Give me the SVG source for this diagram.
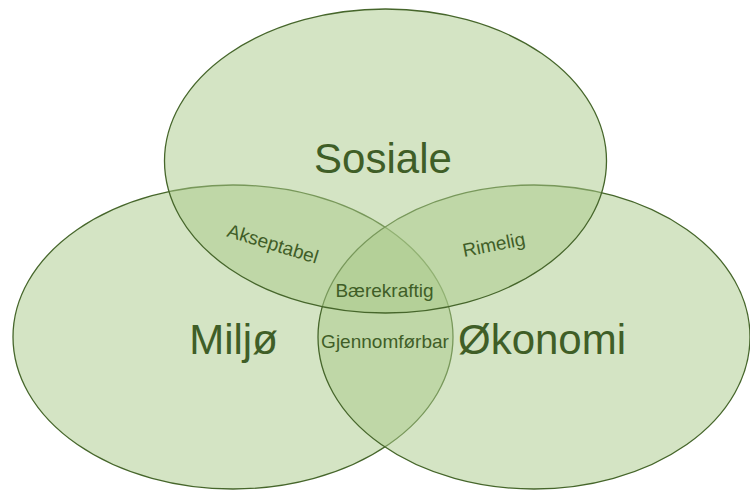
<svg xmlns="http://www.w3.org/2000/svg" width="750" height="491" viewBox="0 0 750 491">
<style>
.set{fill:rgba(169,201,137,0.5);stroke:#46662b;stroke-width:1.3}
.big{font-family:"Liberation Sans",Arial,sans-serif;font-size:42px;fill:#3f5e27;text-anchor:middle}
.small{font-family:"Liberation Sans",Arial,sans-serif;font-size:19px;fill:#3f5e27;text-anchor:middle}
</style>
<rect width="750" height="491" fill="#ffffff"/>
<g id="miljo">
<ellipse class="set" cx="233" cy="337" rx="220" ry="152"/>
</g>
<g id="okonomi">
<ellipse class="set" cx="534" cy="337" rx="216" ry="152"/>
</g>
<g id="sosiale">
<ellipse class="set" cx="385.5" cy="161" rx="221" ry="152"/>
</g>
<g id="labels">
<text class="big" x="383" y="173">Sosiale</text>
<text class="big" x="233.5" y="354">Miljø</text>
<text class="big" x="542" y="354">Økonomi</text>
<text class="small" transform="translate(271,250) rotate(17)">Akseptabel</text>
<text class="small" transform="translate(495,251) rotate(-11)">Rimelig</text>
<text class="small" x="384.5" y="297">Bærekraftig</text>
<text class="small" x="385" y="348">Gjennomførbar</text>
</g>
</svg>
